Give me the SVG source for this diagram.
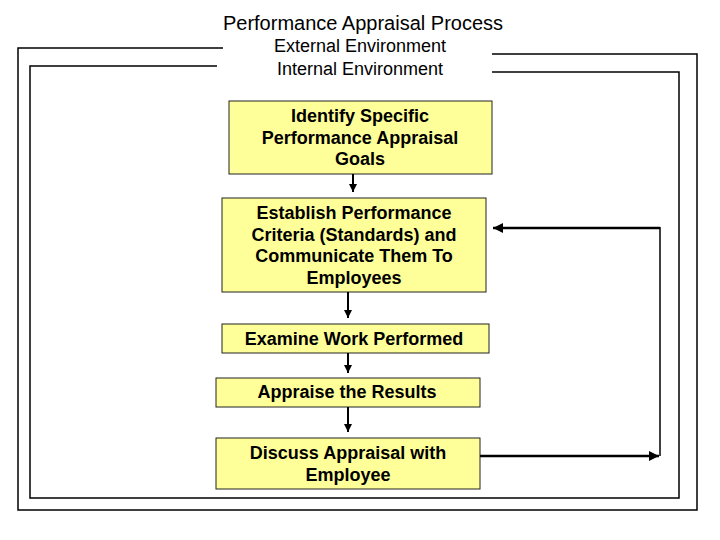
<svg xmlns="http://www.w3.org/2000/svg" width="720" height="540" viewBox="0 0 720 540">
<style>
.frame{fill:none;stroke:#000;stroke-width:1.5}
.box{fill:#FFFF99;stroke:#222;stroke-width:1}
.bt{font-family:"Liberation Sans",Arial,sans-serif;font-weight:bold;font-size:18px;text-anchor:middle;fill:#000}
.tt{font-family:"Liberation Sans",Arial,sans-serif;font-size:18px;text-anchor:middle;fill:#000}
.title{font-size:20px}
.conn{fill:none;stroke:#000;stroke-width:2}
.fb{fill:none;stroke:#000;stroke-width:2.5}
</style>
<defs>
<marker id="ah" viewBox="0 0 10 10" refX="10" refY="5" markerWidth="4" markerHeight="4" orient="auto" markerUnits="strokeWidth">
<path d="M0,0 L10,5 L0,10 z" fill="#000"/>
</marker>
</defs>
<rect width="720" height="540" fill="#fff"/>
<g id="frames">
<polyline class="frame" points="223,48 18,48 18,510 697,510 697,54 492,54"/>
<polyline class="frame" points="217,66 30,66 30,498 679,498 679,72 492,72"/>
</g>
<g id="titles">
<text class="tt title" x="363" y="30">Performance Appraisal Process</text>
<text class="tt" x="360" y="52">External Environment</text>
<text class="tt" x="360" y="75">Internal Environment</text>
</g>
<g id="n1">
<rect class="box" x="229" y="101" width="263" height="73"/>
<text class="bt" x="360" y="122">Identify Specific</text>
<text class="bt" x="360" y="144">Performance Appraisal</text>
<text class="bt" x="360" y="165">Goals</text>
</g>
<g id="n2">
<rect class="box" x="222" y="198" width="264" height="94"/>
<text class="bt" x="354" y="219">Establish Performance</text>
<text class="bt" x="354" y="241">Criteria (Standards) and</text>
<text class="bt" x="354" y="262">Communicate Them To</text>
<text class="bt" x="354" y="284">Employees</text>
</g>
<g id="n3">
<rect class="box" x="222" y="324" width="267" height="29"/>
<text class="bt" x="354" y="345">Examine Work Performed</text>
</g>
<g id="n4">
<rect class="box" x="216" y="378" width="264" height="29"/>
<text class="bt" x="347" y="398">Appraise the Results</text>
</g>
<g id="n5">
<rect class="box" x="216" y="438" width="264" height="51"/>
<text class="bt" x="348" y="459">Discuss Appraisal with</text>
<text class="bt" x="348" y="481">Employee</text>
</g>
<g id="connectors">
<line class="conn" x1="353" y1="174" x2="353" y2="192" marker-end="url(#ah)"/>
<line class="conn" x1="348" y1="292" x2="348" y2="318" marker-end="url(#ah)"/>
<line class="conn" x1="348" y1="353" x2="348" y2="373" marker-end="url(#ah)"/>
<line class="conn" x1="348" y1="407" x2="348" y2="432" marker-end="url(#ah)"/>
<line class="fb" x1="480" y1="456" x2="659" y2="456" marker-end="url(#ah)"/>
<line x1="660" y1="456" x2="660" y2="227" stroke="#000" stroke-width="1.5"/>
<line class="fb" x1="660" y1="228" x2="493" y2="228" marker-end="url(#ah)"/>
</g>
</svg>
